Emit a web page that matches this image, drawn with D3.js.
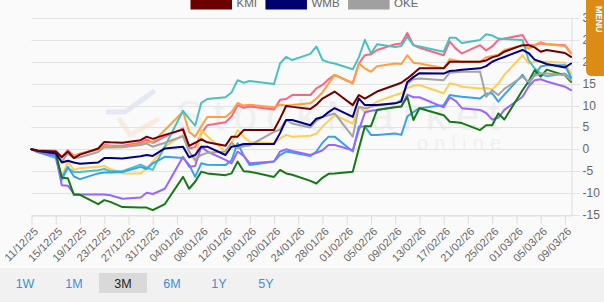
<!DOCTYPE html>
<html><head><meta charset="utf-8">
<script src="https://cdn.jsdelivr.net/npm/d3@7"></script>
<style>
html,body{margin:0;padding:0;background:#fafafa;overflow:hidden}
svg{display:block;font-family:"Liberation Sans",Arial,Helvetica,sans-serif}
</style></head><body>
<svg id="c" width="604" height="302"></svg>
<script>
// ---------- DATA ----------
const tradingDays = ["2025-12-11","2025-12-12","2025-12-15","2025-12-16","2025-12-17","2025-12-18","2025-12-19","2025-12-22","2025-12-23","2025-12-24",
"2025-12-26","2025-12-29","2025-12-30","2025-12-31","2026-01-02","2026-01-05","2026-01-06","2026-01-07","2026-01-08","2026-01-09",
"2026-01-12","2026-01-13","2026-01-14","2026-01-15","2026-01-16","2026-01-20","2026-01-21","2026-01-22","2026-01-23","2026-01-26",
"2026-01-27","2026-01-28","2026-01-29","2026-01-30","2026-02-02","2026-02-03","2026-02-04","2026-02-05","2026-02-06","2026-02-09",
"2026-02-10","2026-02-11","2026-02-12","2026-02-13","2026-02-17","2026-02-18","2026-02-19","2026-02-20","2026-02-23","2026-02-24",
"2026-02-25","2026-02-26","2026-02-27","2026-03-02","2026-03-03","2026-03-04","2026-03-05","2026-03-06","2026-03-09","2026-03-10"];

const tickLabels = ["11/12/25","15/12/25","19/12/25","23/12/25","27/12/25","31/12/25","04/01/26","08/01/26","12/01/26","16/01/26",
"20/01/26","24/01/26","28/01/26","01/02/26","05/02/26","09/02/26","13/02/26","17/02/26","21/02/26","25/02/26","01/03/26","05/03/26","09/03/26"];

const yTicks = [-15,-10,-5,0,5,10,15,20,25,30];

const legendNames = ["KMI","WMB","OKE"];

const kmi = [0,-0.3,-0.5,-1.8,-0.5,-2,-1.2,0.2,1.7,1.6, 1.5,2.1,2.9,2.4,3.3,4.5,0.8,1.5,2.3,1.6, 0.8,2.9,2.9,4.4,4.4,4.4,7,9.9,9.7,9.2, 10.2,11.6,12.4,13.2,10.1,12.4,11.6,12.4,13.2,14.7, 15.2,16.2,17.3,18.5,18.5,20,20,20,20,20.3, 21,21.4,22.3,23.8,23.8,23.3,22.3,22.7,22,21.1];
const wmb = [0,-0.3,-0.9,-3,-2.6,-3,-3.3,-3,-2,-2, -2.1,-1.6,-1.3,-1.5,0.2,0.6,-1.8,-1.3,0.6,0.6, -1.3,0.6,0.8,1.2,1.2,1.2,3.7,6.7,6.7,5.5, 7,7.4,8.5,9.4,7.4,11.6,10.1,10.1,10.1,10.5, 10.9,15.4,16.5,17.4,17.3,17.9,18,18.2,18.5,19, 20,20.6,21.1,22.7,22,20.5,20,19.5,18.7,19.6];
const oke = [0,-0.3,-0.5,-2.8,-1,-2,-1.8,-0.6,0.5,0.4, 0.5,1,1.3,0.6,1.5,3,-0.5,-2.4,-1.3,-0.8, -0.5,1.5,0.3,0.7,0.9,4,4.5,6.7,5.9,5, 6.5,7.4,7.8,8.2,2.9,9.7,9.4,9.7,10,10.5, 11.3,15,16,16.2,15.8,17.5,17.6,17.7,17.7,12, 13.5,12.4,13.8,16.6,15.4,16.8,17.3,17.3,17,15.8];
const orangeSeries = [0,-0.2,-0.5,-1.7,-0.5,-1.5,-1,0,0.8,0.7, 0.6,1.2,1.6,1.7,4.4,8.6,4,2.9,5.2,7.4, 7.4,8.5,10.6,10,10.2,9.6,10.2,10,10.1,10.5, 11.6,13,15,17,15.1,19.6,18.5,17.7,19,19.6, 19.5,21.5,19.8,19.6,18.5,20.6,20.3,20,20,21, 21.3,21.6,22.7,23.8,23,23.8,24.5,24,23.6,21.9];
const pinkSeries = [0,-0.2,-0.3,-1.7,-0.2,-1.5,-1,0,1,0.9, 0.8,1.5,2.3,1.5,2.9,4.8,0.2,0.5,3.6,5.5, 6.2,7.5,10.1,9.5,9.8,9.1,11.3,11.5,12.4,12.4, 13.9,14.7,16,17,15.1,19.6,21.5,21.7,22.7,24, 24.2,26.6,23.8,23.2,21.5,24.6,23,21.9,23.8,22.6, 23.5,25,25.3,26.1,23.8,23.8,24.2,24,23.8,21.9];
const yellowSeries = [0,-0.4,-0.9,-6.3,-2.8,-4.7,-4.3,-4,-3.8,-4.5, -5.5,-5.5,-4.3,-2.8,0.6,3.3,-0.5,-2.8,4.4,3, -0.5,1.5,4.4,2.9,1.7,1.4,2.5,3.3,2.9,3.1, 3.6,5.2,6.5,7.8,5.9,9.7,8.6,10,10.9,12.4, 12.8,14,14.5,14.7,12.8,15.1,14.8,14.3,13.9,14, 13.7,15,17,21.5,19.6,20,20,20,19.8,17.3];
const blueSeries = [0,-0.5,-1.3,-6.5,-4,-6.2,-6.8,-5.5,-5.3,-5.3, -5.2,-4,-4.5,-3.2,-1.7,-2,-3.5,-6.3,-3.2,-3.5, -3.6,-2.5,1.4,-1.4,-3.6,-2.8,-1.3,-0.5,-0.7,-1.5, -0.5,1.5,2.9,2.9,-0.5,5.2,5.2,3.3,3.3,3.6, 3.3,7.5,8.5,9.4,10.1,12.4,12.2,12,11.6,12.7, 12.8,10.9,12.5,17,15,17,18.9,19.2,19.2,16.4];
const purpleSeries = [0,-0.6,-1.5,-8.2,-8.3,-10.2,-10.3,-10.3,-10.3,-10.5, -11.3,-11,-9.9,-10.2,-9,-1.7,-4,-3.8,0.6,-0.5, -2.4,-3.2,-0.5,-1.5,-3.2,-2.8,-0.5,0,-0.4,-1.3, -0.8,-0.2,1,1,-0.2,4.4,8.4,8.8,9,9.7, 9.8,12.5,11.9,11.9,9.6,11.9,11,9.4,9,8.3, 6.8,7.2,9,12,14.3,15.8,16,15.5,14.3,13.5];
const greenSeries = [0,-0.4,-0.9,-6.5,-6.6,-10.4,-10.4,-12.5,-11.6,-12, -13.2,-13.3,-13.3,-13.9,-12.5,-6.3,-9,-7.4,-5.1,-5.5, -5.9,-5.5,-2.8,-5,-5.1,-6.3,-4.7,-5.5,-5.8,-7.2, -7.8,-6.5,-5.6,-5.5,-5.1,0.2,5.3,5.3,9,9.6, 9.8,12,6.7,9.4,7.8,6.3,6.2,6,4.4,5.5, 5.5,8.2,6.8,13.5,15.5,18.1,16.6,18.2,16.9,15.4];
const tealSeries = [0,-0.6,-2,-7,-4.3,-5.2,-5.2,-4.8,-4.5,-5, -5,-3.5,-4.2,-4.7,0.7,8.8,7,5.4,10.6,11.5, 11.9,13,15.8,15.2,15.6,14.9,19.6,21.1,20.4,21.8, 23.5,20.4,19.9,19.6,18.3,21,25,21.9,24,23.4, 23.6,25.7,23.8,23.5,22.3,25.5,25.5,24.3,25,26.3, 26,25.3,25.2,25,20.4,18.5,17.3,16.7,17.3,16.2];

const buttonLabels = ["1W","1M","3M","6M","1Y","5Y"];
const selectedButton = "3M";

// ---------- DRAW ----------
const parse = d3.timeParse("%Y-%m-%d");
const parseTick = d3.timeParse("%d/%m/%y");
const dates = tradingDays.map(parse);

const seriesList = [
  {key:"pink", values:pinkSeries, color:"#ff6384"},
  {key:"orange", values:orangeSeries, color:"#ff9f40"},
  {key:"yellow", values:yellowSeries, color:"#ffcd56"},
  {key:"teal", values:tealSeries, color:"#4bc0c0"},
  {key:"blue", values:blueSeries, color:"#36a2eb"},
  {key:"purple", values:purpleSeries, color:"#9966ff"},
  {key:"green", values:greenSeries, color:"#137a13"},
  {key:"OKE", values:oke, color:"#a3a3a3"},
  {key:"WMB", values:wmb, color:"#000080"},
  {key:"KMI", values:kmi, color:"#700000"}
];
const legendColors = {KMI:"#6a0000", WMB:"#00006e", OKE:"#a0a0a0"};

const svg = d3.select("#c");
const L = 31.5, R = 571.5, T = 18, B = 215;

const x = d3.scaleTime().domain([dates[0], dates[dates.length-1]]).range([L, R - 0.5]);
const y = d3.scaleLinear().domain([-15, 30]).range([B, T]);

// backgrounds
svg.append("rect").attr("x",0).attr("y",0).attr("width",604).attr("height",302).attr("fill","#fafafa");
svg.append("rect").attr("x",0).attr("y",268).attr("width",604).attr("height",34).attr("fill","#f1f1f1");

// watermark
const wm = svg.append("g").attr("opacity",0.04).attr("fill","#000");
wm.append("text").attr("x",176).attr("y",130).attr("font-size",42).attr("textLength",324).attr("lengthAdjust","spacing").text("StockMarket");
wm.append("text").attr("x",417).attr("y",150).attr("font-size",20).attr("textLength",84).attr("lengthAdjust","spacing").text("online");
const logo = svg.append("g").attr("opacity",0.12).attr("fill","none").attr("stroke-width",5).attr("stroke-linecap","round");
logo.append("path").attr("d","M108,112 L125,112 L153,92").attr("stroke","#4a6fd0");
logo.append("path").attr("d","M120,120 L130,135 L157,120").attr("stroke","#f09040");

// gridlines
svg.append("g").selectAll("line").data(yTicks).join("line")
  .attr("x1",L).attr("x2",R).attr("y1",d=>Math.round(y(d))+0.5).attr("y2",d=>Math.round(y(d))+0.5)
  .attr("stroke","#e3e3e3").attr("stroke-width",1);

// y axis (right)
const yAxis = svg.append("g").attr("transform",`translate(${R},0)`)
  .call(d3.axisRight(y).tickValues(yTicks).tickSize(8).tickSizeOuter(0).tickPadding(3).tickFormat(d3.format("d")));
yAxis.select(".domain").attr("stroke","#dcdcdc");
yAxis.selectAll(".tick line").attr("stroke","#e3e3e3");
yAxis.selectAll(".tick").attr("transform", d=>`translate(0,${Math.round(y(d))+0.5})`);
yAxis.selectAll("text").attr("fill","#666").attr("font-size",12).attr("font-family","Liberation Sans, Arial, sans-serif").text(d=> d<0 ? "-"+Math.abs(d) : d);

// x axis
const xTickDates = tickLabels.map(parseTick);
const xAxis = svg.append("g").attr("transform",`translate(0,${B+0.5})`)
  .call(d3.axisBottom(x).tickValues(xTickDates).tickSize(9).tickSizeOuter(0).tickFormat((d,i)=>tickLabels[i]));
xAxis.select(".domain").attr("stroke","#dcdcdc");
xAxis.selectAll(".tick line").attr("stroke","#dcdcdc");
xAxis.selectAll("text").attr("fill","#666").attr("font-size",11).attr("font-family","Liberation Sans, Arial, sans-serif")
  .attr("text-anchor","end").attr("x",0).attr("y",0).attr("dy","0.35em")
  .attr("transform","translate(4,14) rotate(-45)");

// lines
const line = d3.line().x((d,i)=>x(dates[i])).y(d=>y(d));
svg.append("g").selectAll("path").data(seriesList).join("path")
  .attr("d",d=>line(d.values)).attr("fill","none").attr("stroke",d=>d.color)
  .attr("stroke-width",2).attr("stroke-linejoin","round").attr("stroke-linecap","round");

// legend (second row, first row is off-canvas)
const lg = svg.append("g");
let lx = 190.5;
legendNames.forEach(n=>{
  lg.append("rect").attr("x",lx).attr("y",-3).attr("width",41.5).attr("height",12.5).attr("fill",legendColors[n]);
  const t = lg.append("text").attr("x",lx+46).attr("y",7).attr("font-size",11.5).attr("fill","#666").text(n);
  const w = t.node().getComputedTextLength();
  lx = lx + 46 + w + 8.5;
});

// orange tab top-right
svg.append("path").attr("d","M586,-2 H604 V76 H592 Q586,76 586,70 Z").attr("fill","#dc8b14");
svg.append("text").attr("transform","translate(596,6) rotate(90)").attr("font-size",9).attr("font-weight","bold")
  .attr("fill","#fff").text("MENU");

// range buttons
const bx = [25,74,123,172,219,266];
const bg = svg.append("g");
buttonLabels.forEach((b,i)=>{
  if(b===selectedButton){
    bg.append("rect").attr("x",bx[i]-24).attr("y",273).attr("width",48).attr("height",20).attr("fill","#d9d9d9");
  }
  bg.append("text").attr("x",bx[i]).attr("y",288).attr("text-anchor","middle").attr("font-size",12.5)
    .attr("fill", b===selectedButton ? "#222" : "#3b8fd9").text(b);
});
</script>
</body></html>
